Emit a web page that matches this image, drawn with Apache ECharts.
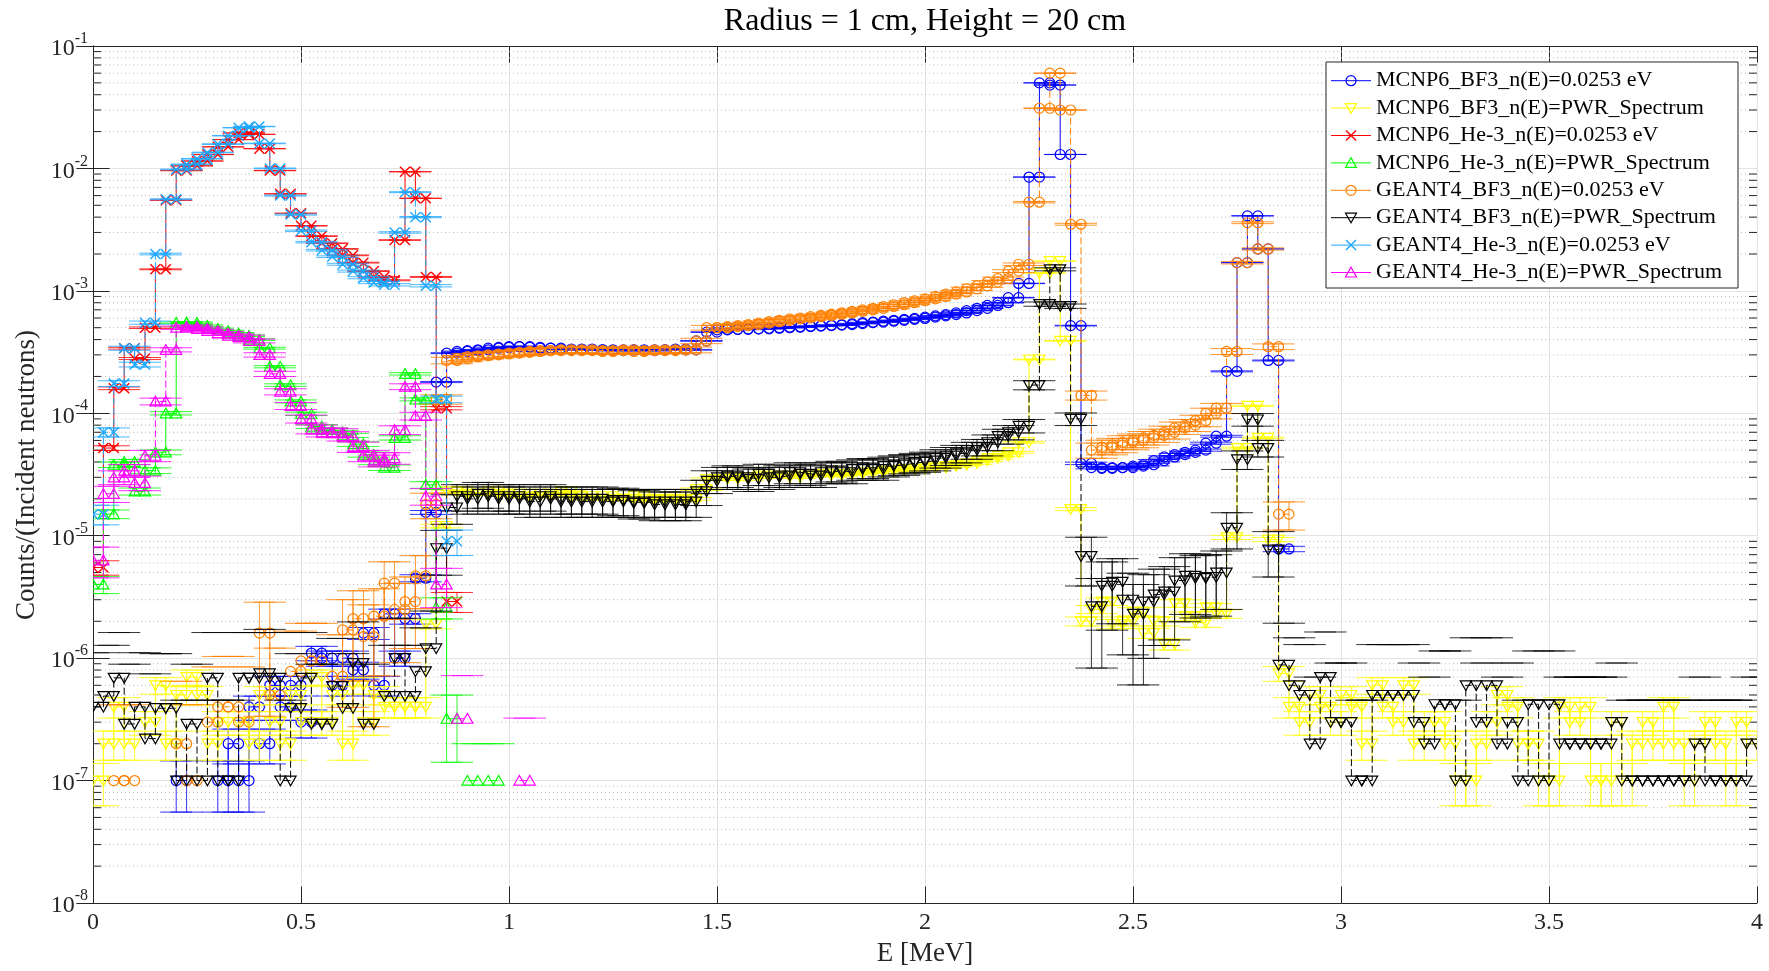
<!DOCTYPE html>
<html>
<head>
<meta charset="utf-8">
<title>Radius = 1 cm, Height = 20 cm</title>
<script src="https://cdn.jsdelivr.net/npm/echarts@6.0.0/dist/echarts.min.js"></script>
<style>
html, body { margin: 0; padding: 0; background: #ffffff; }
#chart { width: 1769px; height: 971px; }
</style>
</head>
<body>
<div id="chart"></div>
<script>
// ---------------------------------------------------------------------------
// Pulse-height tallies per energy bin (counts per incident neutron).
// Bin i covers [i*ENERGY_BIN, (i+1)*ENERGY_BIN] MeV; null = empty bin.
// ---------------------------------------------------------------------------
const _ = null;
const ENERGY_BIN = 0.025;
const xTickValues = [0, 0.5, 1, 1.5, 2, 2.5, 3, 3.5, 4];
const yDecadeExponents = [-8, -7, -6, -5, -4, -3, -2, -1];

const mcnpBf3Thermal = [
  _, _, _, _, _, _, _, _, 1e-7, _,
  _, _, 1e-7, 2e-7, 1e-7, 4e-7, 2e-7, 6e-7, 4e-7, 6e-7,
  3e-7, 1.1e-6, 1.0e-6, 6e-7, 1.0e-6, 8e-7, 1.6e-6, 6e-7, 2.3e-6, 1.0e-6,
  2.1e-6, 4.5e-6, 1.55e-5, 1.8e-4, 3.1e-4, 3.2e-4, 3.25e-4, 3.3e-4, 3.4e-4, 3.45e-4,
  3.5e-4, 3.5e-4, 3.45e-4, 3.4e-4, 3.4e-4, 3.35e-4, 3.3e-4, 3.35e-4, 3.3e-4, 3.3e-4,
  3.25e-4, 3.3e-4, 3.3e-4, 3.25e-4, 3.3e-4, 3.3e-4, 3.35e-4, 3.3e-4, 3.9e-4, 4.6e-4,
  4.8e-4, 4.85e-4, 4.85e-4, 4.9e-4, 4.9e-4, 4.95e-4, 5.0e-4, 5.05e-4, 5.1e-4, 5.15e-4,
  5.2e-4, 5.25e-4, 5.3e-4, 5.4e-4, 5.5e-4, 5.55e-4, 5.65e-4, 5.75e-4, 5.85e-4, 5.95e-4,
  6.1e-4, 6.25e-4, 6.4e-4, 6.6e-4, 6.9e-4, 7.2e-4, 7.6e-4, 8.0e-4, 8.8e-4, 1.15e-3,
  8.5e-3, 5.0e-2, 4.8e-2, 1.3e-2, 5.2e-4, 3.9e-5, 3.6e-5, 3.55e-5, 3.6e-5, 3.6e-5,
  3.7e-5, 3.8e-5, 4.1e-5, 4.4e-5, 4.6e-5, 4.8e-5, 5.0e-5, 5.7e-5, 6.5e-5, 2.2e-4,
  1.7e-3, 4.1e-3, 2.2e-3, 2.7e-4, 7.8e-6
];

const mcnpBf3Pwr = [
  1e-7, 2e-7, 4e-7, 2e-7, _, 3e-7, 6e-7, 2e-7, 5e-7, 7e-7,
  5e-7, 2e-7, 3e-7, _, 3e-7, 2e-7, 5e-7, 3e-7, 2e-7, 5e-7,
  3e-7, 7e-7, 3e-7, 5e-7, 2e-7, 6e-7, 3e-7, 5e-7, 4e-7, 4e-7,
  4e-7, 4e-7, 1.9e-6, 1.2e-5, 2.3e-5, 2.3e-5, 2.2e-5, 2.2e-5, 2.3e-5, 2.2e-5,
  2.2e-5, 2.1e-5, 2.2e-5, 2.1e-5, 2.2e-5, 2.3e-5, 2.1e-5, 2.1e-5, 2.0e-5, 2.1e-5,
  2.0e-5, 2.0e-5, 2.1e-5, 2.0e-5, 1.95e-5, 2.0e-5, 1.95e-5, 2.0e-5, 2.4e-5, 2.9e-5,
  2.9e-5, 3.0e-5, 2.9e-5, 3.0e-5, 3.1e-5, 3.0e-5, 3.1e-5, 3.0e-5, 3.1e-5, 3.1e-5,
  3.2e-5, 3.1e-5, 3.2e-5, 3.2e-5, 3.3e-5, 3.3e-5, 3.4e-5, 3.4e-5, 3.5e-5, 3.5e-5,
  3.6e-5, 3.6e-5, 3.7e-5, 3.8e-5, 3.9e-5, 4.1e-5, 4.3e-5, 4.5e-5, 4.8e-5, 5.8e-5,
  2.75e-4, 1.4e-3, 1.75e-3, 3.9e-4, 1.65e-5, 2.0e-6, 2.5e-6, 2.9e-6, 1.9e-6, 2.0e-6,
  2.4e-6, 1.6e-6, 2.0e-6, 1.3e-6, 2.8e-6, 2.2e-6, 1.95e-6, 2.6e-6, 2.3e-6, 9.7e-6,
  5.2e-5, 1.15e-4, 6.3e-5, 9.3e-6, 7.5e-7, 4e-7, 3e-7, 5e-7, 4e-7, 3e-7,
  5e-7, 4e-7, 2e-7, 6e-7, 4e-7, 3e-7, 6e-7, 2e-7, 3e-7, 3e-7,
  2e-7, 1e-7, 1e-7, 2e-7, 3e-7, 5e-7, 4e-7, 2e-7, 2e-7, 1e-7,
  1e-7, 4e-7, 3e-7, 4e-7, 1e-7, 1e-7, 3e-7, 1e-7, 2e-7, 3e-7,
  2e-7, 4e-7, 2e-7, 1e-7, 2e-7, 3e-7, 2e-7, 1e-7, 3e-7, 2e-7
];

const mcnpHe3Thermal = [
  5.5e-6, 5.2e-5, 1.6e-4, 3.4e-4, 2.8e-4, 5.0e-4, 1.5e-3, 5.5e-3, 9.6e-3, 1.05e-2,
  1.15e-2, 1.3e-2, 1.5e-2, 1.72e-2, 1.95e-2, 1.9e-2, 1.45e-2, 9.6e-3, 6.2e-3, 4.3e-3,
  3.4e-3, 2.8e-3, 2.45e-3, 2.2e-3, 1.95e-3, 1.7e-3, 1.45e-3, 1.3e-3, 1.22e-3, 2.6e-3,
  9.4e-3, 5.7e-3, 1.3e-3, 1.1e-4, 2.9e-6
];

const mcnpHe3Pwr = [
  4.0e-6, 1.5e-5, 3.8e-5, 4.0e-5, 2.3e-5, 3.4e-5, 4.8e-5, 1.0e-4, 5.5e-4, 5.5e-4,
  5.2e-4, 4.9e-4, 4.7e-4, 4.5e-4, 4.3e-4, 4.0e-4, 3.4e-4, 2.4e-4, 1.7e-4, 1.25e-4,
  9.9e-5, 7.8e-5, 7.3e-5, 7.0e-5, 6.6e-5, 5.6e-5, 4.6e-5, 4.0e-5, 3.6e-5, 6.3e-5,
  2.1e-4, 1.3e-4, 2.6e-5, 2.6e-6, 3.2e-7, _, 1e-7, _, 1e-7
];

const geantBf3Thermal = [
  _, _, 1e-7, 1e-7, _, _, _, _, 2e-7, 1e-7,
  _, 3e-7, 4e-7, 4e-7, 3e-7, _, 1.6e-6, 5e-7, _, 7.8e-7,
  9.5e-7, 9.5e-7, _, 7.1e-7, 1.7e-6, 2.1e-6, 1.5e-6, 2.2e-6, 4.1e-6, 2.5e-6,
  2.9e-6, 4.7e-6, 1.8e-5, 1.3e-4, 2.7e-4, 2.8e-4, 2.9e-4, 2.95e-4, 3.0e-4, 3.05e-4,
  3.1e-4, 3.15e-4, 3.2e-4, 3.25e-4, 3.25e-4, 3.3e-4, 3.25e-4, 3.3e-4, 3.25e-4, 3.2e-4,
  3.25e-4, 3.3e-4, 3.2e-4, 3.25e-4, 3.3e-4, 3.25e-4, 3.3e-4, 3.3e-4, 3.9e-4, 5.0e-4,
  5.0e-4, 5.1e-4, 5.2e-4, 5.3e-4, 5.45e-4, 5.6e-4, 5.75e-4, 5.9e-4, 6.0e-4, 6.15e-4,
  6.3e-4, 6.45e-4, 6.6e-4, 6.8e-4, 7.0e-4, 7.2e-4, 7.45e-4, 7.7e-4, 8.0e-4, 8.3e-4,
  8.6e-4, 9.0e-4, 9.4e-4, 9.8e-4, 1.04e-3, 1.1e-3, 1.18e-3, 1.26e-3, 1.45e-3, 1.65e-3,
  5.3e-3, 3.1e-2, 6.0e-2, 3.0e-2, 3.5e-3, 1.4e-4, 5.0e-5, 5.3e-5, 5.5e-5, 5.8e-5,
  6.0e-5, 6.3e-5, 6.6e-5, 7.0e-5, 7.6e-5, 8.0e-5, 8.7e-5, 1.0e-4, 1.1e-4, 3.2e-4,
  1.7e-3, 3.6e-3, 2.2e-3, 3.5e-4, 1.5e-5
];

const geantBf3Pwr = [
  4.0e-7, 4.9e-7, 6.9e-7, 2.9e-7, 4.0e-7, 2.2e-7, 3.9e-7, 3.9e-7, 1e-7, 2.9e-7,
  1e-7, 6.9e-7, 1e-7, 1e-7, 6.9e-7, 6.9e-7, 7.5e-7, 6.9e-7, 1e-7, 3.9e-7,
  6.9e-7, 2.9e-7, 2.9e-7, 5.9e-7, 3.9e-7, 9.1e-7, 2.9e-7, _, 4.9e-7, 1.0e-6,
  4.9e-7, 7.8e-7, 1.2e-6, 7.9e-6, 1.7e-5, 2.1e-5, 2.0e-5, 2.2e-5, 2.1e-5, 2.0e-5,
  2.1e-5, 2.0e-5, 1.9e-5, 2.1e-5, 2.0e-5, 1.9e-5, 2.0e-5, 1.9e-5, 2.0e-5, 1.9e-5,
  1.95e-5, 1.9e-5, 1.85e-5, 1.9e-5, 1.8e-5, 1.9e-5, 1.8e-5, 1.9e-5, 2.3e-5, 2.8e-5,
  3.0e-5, 3.1e-5, 3.0e-5, 2.9e-5, 3.2e-5, 3.0e-5, 3.1e-5, 3.3e-5, 3.2e-5, 3.1e-5,
  3.3e-5, 3.4e-5, 3.3e-5, 3.5e-5, 3.6e-5, 3.5e-5, 3.7e-5, 3.8e-5, 3.9e-5, 4.0e-5,
  4.1e-5, 4.3e-5, 4.5e-5, 4.7e-5, 5.0e-5, 5.3e-5, 5.8e-5, 6.5e-5, 7.0e-5, 7.9e-5,
  1.7e-4, 7.8e-4, 1.5e-3, 7.5e-4, 9.0e-5, 6.8e-6, 2.65e-6, 3.9e-6, 4.2e-6, 3.0e-6,
  2.3e-6, 2.9e-6, 3.3e-6, 3.5e-6, 4.3e-6, 4.7e-6, 4.5e-6, 4.6e-6, 5.0e-6, 1.16e-5,
  4.2e-5, 8.9e-5, 5.2e-5, 7.7e-6, 8.8e-7, 6e-7, 5e-7, 2e-7, 7e-7, 3e-7,
  3e-7, 1e-7, 1e-7, 5e-7, 5e-7, 5e-7, 5e-7, 3e-7, 2e-7, 4.2e-7,
  4.2e-7, 1e-7, 6e-7, 3e-7, 6e-7, 2e-7, 3e-7, 1e-7, 4.2e-7, 1e-7,
  4.2e-7, 2e-7, 2e-7, 2e-7, 2e-7, 2e-7, 3e-7, 1e-7, 1e-7, 1e-7,
  1e-7, 1e-7, 1e-7, 1e-7, 2e-7, 1e-7, 1e-7, 1e-7, 1e-7, 2e-7
];

const geantHe3Thermal = [
  1.5e-5, 7.0e-5, 1.75e-4, 3.4e-4, 2.5e-4, 5.5e-4, 2.0e-3, 5.6e-3, 9.8e-3, 1.08e-2,
  1.2e-2, 1.35e-2, 1.58e-2, 1.85e-2, 2.15e-2, 2.2e-2, 1.6e-2, 1.0e-2, 6.0e-3, 4.2e-3,
  3.1e-3, 2.5e-3, 2.15e-3, 1.9e-3, 1.65e-3, 1.45e-3, 1.28e-3, 1.17e-3, 1.12e-3, 3.0e-3,
  6.4e-3, 4.0e-3, 1.1e-3, 1.3e-4, 9.0e-6
];

const geantHe3Pwr = [
  6.3e-6, 2.2e-5, 3.0e-5, 3.4e-5, 2.7e-5, 4.5e-5, 1.25e-4, 3.3e-4, 5.0e-4, 5.1e-4,
  4.9e-4, 4.7e-4, 4.5e-4, 4.3e-4, 4.2e-4, 3.9e-4, 3.0e-4, 2.1e-4, 1.5e-4, 1.15e-4,
  9.0e-5, 7.4e-5, 7.0e-5, 6.9e-5, 6.5e-5, 5.3e-5, 4.5e-5, 4.1e-5, 4.3e-5, 7.3e-5,
  1.65e-4, 9.5e-5, 2.1e-5, 4.0e-6, _, 3.2e-7, _, _, _, _,
  _, 1e-7
];

const seriesNames = [
  'MCNP6_BF3_n(E)=0.0253 eV',
  'MCNP6_BF3_n(E)=PWR_Spectrum',
  'MCNP6_He-3_n(E)=0.0253 eV',
  'MCNP6_He-3_n(E)=PWR_Spectrum',
  'GEANT4_BF3_n(E)=0.0253 eV',
  'GEANT4_BF3_n(E)=PWR_Spectrum',
  'GEANT4_He-3_n(E)=0.0253 eV',
  'GEANT4_He-3_n(E)=PWR_Spectrum'
];
const seriesValues = [
  mcnpBf3Thermal, mcnpBf3Pwr, mcnpHe3Thermal, mcnpHe3Pwr,
  geantBf3Thermal, geantBf3Pwr, geantHe3Thermal, geantHe3Pwr
];
// Effective number of source histories behind each tally (sets the Poisson error bars).
const effectiveHistories = [5e7, 7e7, 1e7, 1e7, 1e6, 8e5, 2e6, 2e6];

// Styling
const seriesColors = ['#0000ff', '#ffff00', '#ff0000', '#00ff00', '#ff8000', '#000000', '#1ea7ff', '#ff00ff'];
const seriesMarkers = ['circle', 'down', 'cross', 'up', 'circle', 'down', 'cross', 'up'];
const seriesDashed = [false, false, false, false, true, true, true, true];
const FONT = "'Liberation Serif', 'Times New Roman', serif";
const AXIS_COLOR = '#262626';
const CAP_HALF = 16;

// Each bin is drawn as a step: one point at each bin edge.
function stairPoints(values) {
  const pts = [];
  values.forEach(function (v, i) {
    if (v == null) { pts.push([(i + 0.5) * ENERGY_BIN, '-']); return; }
    pts.push([i * ENERGY_BIN, v]);
    pts.push([(i + 1) * ENERGY_BIN, v]);
  });
  return pts;
}

// Points with statistical limits: sigma = sqrt(counts) / histories.
function errorPoints(values, histories) {
  const pts = [];
  values.forEach(function (v, i) {
    if (v == null) return;
    const sigma = Math.sqrt(v / histories);
    const lo = v - sigma > 0 ? v - sigma : 0;
    const hi = v + sigma;
    pts.push([i * ENERGY_BIN, v, lo, hi]);
    pts.push([(i + 1) * ENERGY_BIN, v, lo, hi]);
  });
  return pts;
}

function markerShape(kind, cx, cy, color, z) {
  const st = function () { return { fill: 'none', stroke: color, lineWidth: 1.2 }; };
  const withZ = function (el) { if (z != null) el.z = z; return el; };
  if (kind === 'circle') {
    return withZ({ type: 'circle', shape: { cx: cx, cy: cy, r: 5 }, style: st() });
  }
  if (kind === 'down') {
    return withZ({ type: 'polygon', shape: { points: [[cx - 5.5, cy - 4.5], [cx + 5.5, cy - 4.5], [cx, cy + 5.2]] }, style: st() });
  }
  if (kind === 'up') {
    return withZ({ type: 'polygon', shape: { points: [[cx - 5.5, cy + 4.5], [cx + 5.5, cy + 4.5], [cx, cy - 5.2]] }, style: st() });
  }
  const h = 5;
  const xs = function () { return { fill: 'none', stroke: color, lineWidth: 1.4 }; };
  return withZ({
    type: 'group',
    children: [
      withZ({ type: 'line', shape: { x1: cx - h, y1: cy - h, x2: cx + h, y2: cy + h }, style: xs() }),
      withZ({ type: 'line', shape: { x1: cx - h, y1: cy + h, x2: cx + h, y2: cy - h }, style: xs() })
    ]
  });
}

function errorMarkerRenderer(k) {
  const color = seriesColors[k];
  const kind = seriesMarkers[k];
  return function (params, api) {
    const x = api.value(0), y = api.value(1), lo = api.value(2), hi = api.value(3);
    const p = api.coord([x, y]);
    const top = api.coord([x, hi])[1];
    const bar = function () { return { stroke: color, lineWidth: 1, opacity: 0.8 }; };
    const children = [];
    if (lo > 0) {
      const bottom = api.coord([x, lo])[1];
      children.push({ type: 'line', shape: { x1: p[0], y1: top, x2: p[0], y2: bottom }, style: bar() });
      children.push({ type: 'line', shape: { x1: p[0] - CAP_HALF, y1: bottom, x2: p[0] + CAP_HALF, y2: bottom }, style: bar() });
    }
    children.push({ type: 'line', shape: { x1: p[0] - CAP_HALF, y1: top, x2: p[0] + CAP_HALF, y2: top }, style: bar() });
    children.push(markerShape(kind, p[0], p[1], color));
    return { type: 'group', children: children };
  };
}

// Minor decade positions (2..9 x 10^n) for dotted grid and minor ticks.
const minorTickValues = [];
for (let d = 0; d < yDecadeExponents.length - 1; d++) {
  for (let m = 2; m <= 9; m++) minorTickValues.push([xTickValues[0], m * Math.pow(10, yDecadeExponents[d])]);
}

const series = [];
series.push({
  type: 'custom',
  name: 'minor-grid',
  silent: true,
  z: 1,
  data: minorTickValues,
  encode: { x: 0, y: 1 },
  renderItem: function (params, api) {
    const cs = params.coordSys;
    const y = api.coord([api.value(0), api.value(1)])[1];
    return {
      type: 'group',
      children: [
        { type: 'line', shape: { x1: cs.x, y1: y, x2: cs.x + cs.width, y2: y },
          style: { stroke: '#b8b8b8', lineWidth: 1, lineDash: [1, 3] } },
        { type: 'line', shape: { x1: cs.x, y1: y, x2: cs.x + 8, y2: y },
          style: { stroke: AXIS_COLOR, lineWidth: 1 } },
        { type: 'line', shape: { x1: cs.x + cs.width - 8, y1: y, x2: cs.x + cs.width, y2: y },
          style: { stroke: AXIS_COLOR, lineWidth: 1 } }
      ]
    };
  }
});

seriesValues.forEach(function (values, k) {
  series.push({
    type: 'line',
    name: seriesNames[k],
    data: stairPoints(values),
    showSymbol: false,
    symbol: 'none',
    connectNulls: false,
    silent: true,
    clip: true,
    z: 10 + 2 * k,
    lineStyle: { color: seriesColors[k], width: 1, type: seriesDashed[k] ? [7, 3] : 'solid' }
  });
  series.push({
    type: 'custom',
    name: seriesNames[k] + ' markers',
    data: errorPoints(values, effectiveHistories[k]),
    encode: { x: 0, y: 1 },
    silent: true,
    clip: true,
    z: 11 + 2 * k,
    renderItem: errorMarkerRenderer(k)
  });
});

// Title, axis names and legend box
const LEG_X = 1326, LEG_Y = 62, LEG_W = 412, LEG_H = 226, LEG_ROW0 = 80.7, LEG_PITCH = 27.4;
const graphics = [
  { type: 'text', x: 925, y: 22, z: 100,
    style: { text: 'Radius = 1 cm, Height = 20 cm', font: '32px ' + FONT, fill: '#000000', textAlign: 'center', textVerticalAlign: 'middle' } },
  { type: 'text', x: 925, y: 954, z: 100,
    style: { text: 'E [MeV]', font: '27px ' + FONT, fill: AXIS_COLOR, textAlign: 'center', textVerticalAlign: 'middle' } },
  { type: 'text', x: 27, y: 475, rotation: Math.PI / 2, z: 100,
    style: { text: 'Counts/(Incident neutrons)', font: '27px ' + FONT, fill: AXIS_COLOR, textAlign: 'center', textVerticalAlign: 'middle' } },
  { type: 'rect', shape: { x: LEG_X, y: LEG_Y, width: LEG_W, height: LEG_H }, z: 200,
    style: { fill: '#ffffff', stroke: AXIS_COLOR, lineWidth: 1 } }
];
seriesNames.forEach(function (name, k) {
  const cy = LEG_ROW0 + k * LEG_PITCH;
  graphics.push({ type: 'line', z: 201, shape: { x1: LEG_X + 5, y1: cy, x2: LEG_X + 45, y2: cy },
    style: { stroke: seriesColors[k], lineWidth: 1 } });
  graphics.push(markerShape(seriesMarkers[k], LEG_X + 25, cy, seriesColors[k], 202));
  graphics.push({ type: 'text', z: 202, x: LEG_X + 50, y: cy,
    style: { text: name, font: '22px ' + FONT, fill: '#000000', textAlign: 'left', textVerticalAlign: 'middle' } });
});

const xMin = xTickValues[0], xMax = xTickValues[xTickValues.length - 1];
const xStep = xTickValues[1] - xTickValues[0];
const yMin = Math.pow(10, yDecadeExponents[0]);
const yMax = Math.pow(10, yDecadeExponents[yDecadeExponents.length - 1]);

const axisLineStyle = { show: true, lineStyle: { color: AXIS_COLOR, width: 1 } };
const tickStyle = { show: true, inside: true, length: 16.6, lineStyle: { color: AXIS_COLOR, width: 1 } };

const option = {
  animation: false,
  backgroundColor: '#ffffff',
  grid: { left: 93, right: 12, top: 46, bottom: 68, containLabel: false, outerBoundsMode: 'none' },
  xAxis: [
    {
      type: 'value', min: xMin, max: xMax, interval: xStep, position: 'bottom',
      axisLine: axisLineStyle, axisTick: tickStyle,
      axisLabel: { show: true, margin: 8, fontFamily: FONT, fontSize: 24, color: AXIS_COLOR,
        formatter: function (v) { return String(v); } },
      splitLine: { show: true, lineStyle: { color: '#e3e3e3', width: 1 } },
      minorTick: { show: false }
    },
    {
      type: 'value', min: xMin, max: xMax, interval: xStep, position: 'top',
      axisLine: axisLineStyle, axisTick: tickStyle,
      axisLabel: { show: false }, splitLine: { show: false }
    }
  ],
  yAxis: [
    {
      type: 'log', logBase: 10, min: yMin, max: yMax, position: 'left', splitNumber: 7,
      axisLine: axisLineStyle, axisTick: tickStyle,
      axisLabel: {
        show: true, margin: 5, color: AXIS_COLOR,
        formatter: function (v) {
          const e = Math.round(Math.log(v) / Math.LN10);
          return '{b|10}{s|' + e + '}';
        },
        rich: {
          b: { fontFamily: FONT, fontSize: 24, color: AXIS_COLOR, lineHeight: 30, verticalAlign: 'bottom' },
          s: { fontFamily: FONT, fontSize: 16, color: AXIS_COLOR, lineHeight: 14, verticalAlign: 'top' }
        }
      },
      splitLine: { show: true, lineStyle: { color: '#e3e3e3', width: 1 } }
    },
    {
      type: 'log', logBase: 10, min: yMin, max: yMax, position: 'right', splitNumber: 7,
      axisLine: axisLineStyle, axisTick: tickStyle,
      axisLabel: { show: false }, splitLine: { show: false }
    }
  ],
  graphic: graphics,
  series: series
};

const chart = echarts.init(document.getElementById('chart'), null, { renderer: 'canvas' });
chart.setOption(option);
</script>
</body>
</html>
